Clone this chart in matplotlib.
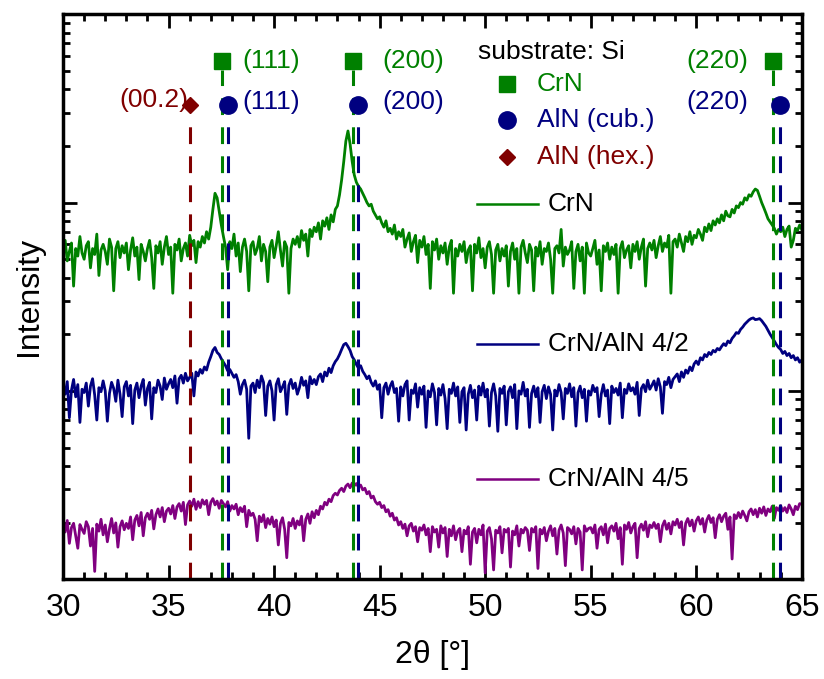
import numpy as np
import matplotlib.pyplot as plt
import matplotlib.transforms as mtransforms
from matplotlib.ticker import MultipleLocator, LogLocator, NullFormatter

plt.rcParams['font.family'] = ['Liberation Sans', 'DejaVu Sans']

GREEN = '#008000'
NAVY = '#000080'
WINE = '#800000'
PURPLE = '#800080'

# 2theta scan, 0.1 deg steps from 30 to 65
two_theta = np.linspace(30, 65, 351)

# CrN single layer (counts)
crn = [
    58, 63, 49, 55, 61, 36, 57, 52, 66, 54,
    50, 59, 62, 45, 57, 53, 68, 41, 56, 60,
    55, 47, 64, 58, 34, 57, 62, 51, 59, 54,
    61, 44, 56, 65, 52, 58, 39, 60, 55, 49,
    57, 63, 51, 35, 59, 54, 62, 47, 58, 66,
    53, 58, 33, 60, 56, 64, 49, 57, 61, 52,
    67, 59, 63, 48, 62, 58, 66, 61, 70, 64,
    74, 92, 112, 106, 90, 76, 66, 58, 44, 62,
    57, 68, 52, 61, 43, 58, 64, 55, 34, 59,
    62, 53, 57, 66, 49, 60, 55, 38, 58, 63,
    51, 59, 70, 56, 46, 62, 58, 33, 57, 64,
    60, 66, 58, 71, 63, 68, 52, 72, 66, 74,
    70, 78, 64, 80, 75, 83, 72, 86, 79, 92,
    96, 110, 132, 165, 212, 240, 205, 165, 140, 128,
    122, 118, 112, 106, 100, 96, 98, 90, 86, 82,
    84, 78, 74, 80, 70, 73, 68, 76, 64, 70,
    66, 72, 58, 64, 69, 55, 62, 67, 48, 63,
    58, 66, 53, 60, 35, 62, 56, 64, 50, 59,
    54, 61, 47, 58, 63, 33, 57, 52, 60, 55,
    62, 48, 56, 59, 34, 60, 54, 65, 51, 57,
    45, 58, 62, 53, 33, 56, 60, 49, 57, 52,
    59, 36, 55, 61, 50, 57, 33, 58, 63, 54,
    48, 60, 56, 34, 58, 52, 62, 47, 57, 55,
    61, 50, 33, 57, 59, 54, 72, 46, 58, 53,
    56, 62, 35, 55, 60, 49, 58, 33, 61, 54,
    52, 57, 63, 47, 56, 34, 59, 55, 61, 50,
    58, 53, 60, 33, 57, 62, 51, 56, 59, 45,
    60, 55, 62, 50, 58, 64, 36, 57, 61, 56,
    63, 51, 59, 66, 55, 61, 58, 67, 33, 62,
    64, 58, 68, 61, 55, 66, 62, 70, 60, 67,
    65, 72, 68, 63, 74, 70, 77, 71, 80, 76,
    82, 78, 86, 80, 90, 85, 84, 92, 88, 96,
    94, 100, 98, 106, 103, 110, 108, 114, 118, 116,
    108, 100, 94, 88, 82, 79, 76, 73, 68, 72,
    70, 74, 66, 72, 75, 58, 63, 73, 71, 76,
    72,
]

# CrN/AlN 4/2 multilayer (counts)
crn_aln_42 = [
    10.5, 9.6, 11.2, 7.2, 10.1, 11.5, 9.3, 10.8, 6.8, 10.2,
    9.8, 11.0, 8.3, 10.6, 11.6, 9.5, 7.0, 10.4, 9.9, 11.3,
    10.0, 6.9, 9.7, 11.1, 10.3, 8.8, 11.4, 9.6, 7.3, 10.5,
    11.2, 9.4, 10.7, 6.7, 10.1, 11.0, 9.2, 10.6, 11.5, 8.4,
    10.3, 11.1, 7.1, 10.4, 9.8, 11.4, 10.6, 9.0, 11.7, 10.2,
    10.9, 11.5, 10.4, 12.0, 8.6, 11.6, 12.1, 11.0, 12.4, 11.3,
    11.8, 12.4, 9.4, 12.6, 12.0, 13.0, 12.4, 13.4, 12.9, 14.2,
    15.2, 16.4, 17.0, 16.0, 15.6, 14.8, 14.2, 13.6, 12.8, 13.0,
    12.4, 11.8, 12.2, 11.2, 9.6, 10.8, 11.4, 10.2, 5.6, 10.6,
    11.0, 9.8, 11.4, 10.4, 12.0, 11.1, 7.4, 10.6, 11.3, 10.0,
    7.0, 10.8, 11.6, 9.9, 10.5, 11.2, 7.5, 10.7, 11.5, 10.3,
    11.0, 9.6, 10.4, 11.8, 10.7, 11.3, 9.2, 11.9, 10.9, 11.5,
    10.8, 11.9, 12.3, 11.2, 12.6, 12.0, 13.2, 12.5, 13.6, 14.3,
    14.8, 15.6, 16.6, 17.6, 17.9, 17.2, 16.4, 15.2, 14.6, 13.8,
    13.2, 13.6, 12.7, 12.2, 11.6, 12.0, 11.1, 10.6, 11.3, 10.2,
    10.8, 7.2, 10.4, 11.0, 9.6, 10.6, 11.2, 9.8, 10.3, 6.9,
    10.5, 9.4, 10.8, 11.3, 7.0, 10.1, 9.7, 10.9, 8.2, 10.4,
    9.6, 10.6, 6.4, 10.0, 9.3, 10.9, 9.8, 6.6, 10.3, 9.5,
    10.8, 9.1, 6.3, 10.2, 9.7, 11.0, 9.4, 10.5, 6.8, 9.9,
    10.4, 6.2, 9.6, 10.7, 9.2, 10.1, 7.0, 10.6, 9.5, 11.0,
    9.3, 10.2, 6.5, 9.8, 10.9, 9.4, 6.1, 10.3, 9.7, 10.6,
    6.6, 9.9, 10.5, 9.2, 10.8, 6.3, 10.0, 9.6, 11.1, 9.4,
    10.2, 6.4, 9.7, 10.6, 9.3, 10.4, 6.8, 9.9, 10.7, 9.1,
    10.5, 9.6, 6.2, 10.1, 9.4, 10.8, 9.8, 7.1, 10.3, 9.7,
    10.9, 9.3, 10.4, 6.5, 9.8, 10.6, 9.2, 10.2, 6.9, 10.0,
    9.5, 10.7, 9.9, 10.4, 7.3, 9.6, 10.8, 9.4, 10.1, 6.7,
    10.6, 9.8, 10.3, 9.5, 11.0, 7.2, 10.2, 9.7, 10.9, 10.0,
    10.4, 9.6, 11.1, 7.4, 10.3, 10.8, 9.9, 11.4, 10.2, 10.7,
    11.3, 10.1, 11.6, 10.5, 7.6, 11.2, 10.8, 11.8, 10.4, 11.5,
    11.9, 12.3, 11.2, 12.6, 11.8, 12.9, 12.4, 13.4, 12.8, 13.9,
    14.4, 13.8, 15.0, 14.6, 15.6, 15.2, 16.0, 15.6, 16.4, 16.1,
    16.8, 16.5, 17.2, 17.8, 17.4, 18.4, 18.0, 19.0, 19.6, 20.4,
    20.2, 21.2, 21.8, 22.6, 23.2, 23.8, 24.2, 24.4, 23.9, 24.0,
    24.2, 23.6, 22.8, 22.0, 21.0, 20.0, 19.2, 18.4, 17.6, 17.0,
    16.6, 15.8, 16.2, 15.4, 15.8, 15.0, 15.4, 14.6, 15.0, 14.2,
    14.6,
]

# CrN/AlN 4/5 multilayer (counts)
crn_aln_45 = [
    1.92, 1.78, 2.05, 1.55, 1.88, 1.98, 1.70, 1.46, 1.95, 1.84,
    1.75, 2.02, 1.90, 1.50, 1.86, 1.10, 1.96, 1.80, 2.08, 1.72,
    1.94, 1.58, 1.85, 2.10, 1.76, 1.99, 1.48, 1.90, 2.04, 1.83,
    1.98, 1.86, 2.14, 1.62, 2.06, 2.18, 1.92, 2.26, 1.70, 2.12,
    2.24, 2.08, 2.32, 1.85, 2.20, 2.36, 2.14, 2.40, 2.02, 2.30,
    2.38, 2.22, 2.46, 2.10, 2.42, 2.52, 2.30, 2.56, 1.95, 2.48,
    2.60, 2.44, 2.66, 2.35, 2.58, 2.40, 2.64, 2.50, 2.62, 2.20,
    2.56, 2.68, 2.48, 2.60, 2.38, 2.62, 2.52, 2.42, 2.58, 2.30,
    2.46, 2.36, 2.50, 2.20, 2.40, 2.28, 2.44, 1.90, 2.32, 2.18,
    2.24, 2.08, 1.60, 2.16, 2.02, 2.20, 1.88, 2.10, 1.96, 2.14,
    1.90, 2.06, 1.52, 1.98, 2.12, 1.84, 1.30, 2.00, 1.92, 2.10,
    1.86, 2.04, 1.94, 2.16, 1.60, 2.08, 2.22, 1.98, 2.28, 2.12,
    2.32, 2.20, 2.44, 2.36, 2.56, 2.48, 2.66, 2.58, 2.78, 2.86,
    2.80, 2.96, 3.04, 2.92, 3.12, 3.20, 3.06, 3.24, 3.14, 3.22,
    3.08, 3.16, 2.98, 3.04, 2.84, 2.92, 2.70, 2.76, 2.58, 2.50,
    2.56, 2.40, 2.46, 2.28, 2.34, 2.16, 2.24, 2.06, 2.12, 1.94,
    2.02, 1.86, 1.96, 1.70, 1.92, 1.98, 1.80, 1.90, 1.58, 1.88,
    1.82, 1.94, 1.72, 1.86, 1.40, 1.90, 1.78, 1.84, 1.48, 1.92,
    1.76, 1.88, 1.32, 1.84, 1.70, 1.92, 1.62, 1.80, 1.86, 1.40,
    1.82, 1.74, 1.90, 1.20, 1.78, 1.86, 1.56, 1.84, 1.72, 1.94,
    1.08, 1.80, 1.88, 1.64, 1.12, 1.82, 1.76, 1.90, 1.38, 1.84,
    1.78, 1.86, 1.16, 1.80, 1.72, 1.92, 1.50, 1.84, 1.76, 1.88,
    1.82, 1.42, 1.86, 1.78, 1.90, 1.14, 1.84, 1.74, 1.88, 1.60,
    1.80, 1.92, 1.70, 1.86, 1.36, 1.82, 1.94, 1.76, 1.18, 1.88,
    1.84, 1.74, 1.90, 1.54, 1.86, 1.78, 1.12, 1.92, 1.80, 1.86,
    1.88, 1.76, 1.94, 1.46, 1.84, 1.90, 1.72, 1.96, 1.56, 1.86,
    1.92, 1.80, 1.98, 1.64, 1.88, 1.20, 1.94, 1.84, 2.00, 1.76,
    1.90, 1.98, 1.30, 1.86, 1.96, 1.82, 2.02, 1.68, 1.94, 1.88,
    2.00, 1.86, 1.96, 1.58, 1.92, 2.04, 1.84, 1.98, 1.74, 2.02,
    1.94, 2.08, 1.88, 2.02, 1.52, 1.98, 2.10, 1.92, 2.06, 1.80,
    2.04, 2.14, 1.96, 2.10, 1.78, 2.06, 2.18, 2.00, 2.12, 1.66,
    2.08, 2.20, 2.02, 2.16, 2.24, 1.84, 2.14, 1.28, 2.20, 2.10,
    2.26, 2.12, 2.30, 2.18, 2.04, 2.28, 2.36, 2.20, 2.34, 2.14,
    2.38, 2.24, 2.42, 2.18, 2.36, 2.28, 2.44, 2.10, 2.40, 2.32,
    2.46, 2.30, 2.40, 2.26, 2.48, 2.36, 2.20, 2.44, 2.34, 2.52,
    2.50,
]

# reference reflections
crn_ref = [37.55, 43.72, 63.66]
aln_cub_ref = [37.83, 43.96, 63.95]
aln_hex_ref = [36.03]
crn_hkl = ['(111)', '(200)', '(220)']
aln_cub_hkl = ['(111)', '(200)', '(220)']
aln_hex_hkl = ['(00.2)']
hkl_text_x = [38.5, 45.15, 59.55]

sample_names = ['CrN', 'CrN/AlN 4/2', 'CrN/AlN 4/5']
sample_colors = [GREEN, NAVY, PURPLE]


fig = plt.figure(figsize=(8.24, 6.79), dpi=100)
ax = fig.add_axes([0.0765, 0.147, 0.8965, 0.832])

for y, c in zip([crn, crn_aln_42, crn_aln_45], sample_colors):
    ax.plot(two_theta, y, color=c, lw=2.0)

ax.set_yscale('log')
ax.set_xlim(30, 65)
ax.set_ylim(1, 1000)

# x in data, y in axes fraction
trans = mtransforms.blended_transform_factory(ax.transData, ax.transAxes)
dash = dict(lw=2.2, dashes=(5.5, 4))

for x in crn_ref:
    ax.plot([x, x], [0, 0.902], color=GREEN, transform=trans, **dash)
for x in aln_cub_ref:
    ax.plot([x, x], [0, 0.815], color=NAVY, transform=trans, **dash)
for x in aln_hex_ref:
    ax.plot([x, x], [0, 0.815], color=WINE, transform=trans, **dash)

ax.plot(crn_ref, [0.918] * 3, 's', color=GREEN, ms=12, transform=trans, clip_on=False)
ax.plot(aln_cub_ref, [0.84] * 3, 'o', color=NAVY, ms=12.5, transform=trans, clip_on=False)
ax.plot(aln_hex_ref, [0.84], 'D', color=WINE, ms=8.5, transform=trans, clip_on=False)

fs = 19
for x, t in zip(hkl_text_x, crn_hkl):
    ax.text(x, 0.918, t, color=GREEN, fontsize=fs, va='center', ha='left', transform=trans)
for x, t in zip(hkl_text_x, aln_cub_hkl):
    ax.text(x, 0.845, t, color=NAVY, fontsize=fs, va='center', ha='left', transform=trans)
ax.text(35.95, 0.848, aln_hex_hkl[0], color=WINE, fontsize=fs, va='center', ha='right', transform=trans)

# phase key
ax.text(0.562, 0.934, 'substrate: Si', fontsize=fs, va='center', ha='left', transform=ax.transAxes)
key = [('s', GREEN, 'CrN', 12, 0.877), ('o', NAVY, 'AlN (cub.)', 12.5, 0.812), ('D', WINE, 'AlN (hex.)', 8.5, 0.748)]
for m, c, lab, ms, yk in key:
    ax.plot([0.601], [yk], m, color=c, ms=ms, transform=ax.transAxes)
    ax.text(0.641, yk, lab, color=c, fontsize=fs, va='center', ha='left', transform=ax.transAxes)

# sample labels next to curves
for yk, c, lab in zip([0.665, 0.416, 0.177], sample_colors, sample_names):
    ax.plot([0.560, 0.643], [yk, yk], color=c, lw=1.8, transform=ax.transAxes)
    ax.text(0.656, yk, lab, fontsize=fs, va='center', ha='left', transform=ax.transAxes)

ax.xaxis.set_major_locator(MultipleLocator(5))
ax.xaxis.set_minor_locator(MultipleLocator(1))
ax.yaxis.set_major_locator(LogLocator(base=10, numticks=10))
ax.yaxis.set_minor_locator(LogLocator(base=10, subs=np.arange(2, 10), numticks=10))
ax.yaxis.set_major_formatter(NullFormatter())
ax.yaxis.set_minor_formatter(NullFormatter())

ax.tick_params(which='both', direction='in', top=True, right=True, width=2)
ax.tick_params(which='major', length=10, labelsize=23, pad=10)
ax.tick_params(which='minor', length=5)
for s in ax.spines.values():
    s.set_linewidth(2.5)

ax.set_xlabel('2θ [°]', fontsize=23, labelpad=12)
ax.set_ylabel('Intensity', fontsize=23, labelpad=4)

fig.savefig('out.png', dpi=100)
